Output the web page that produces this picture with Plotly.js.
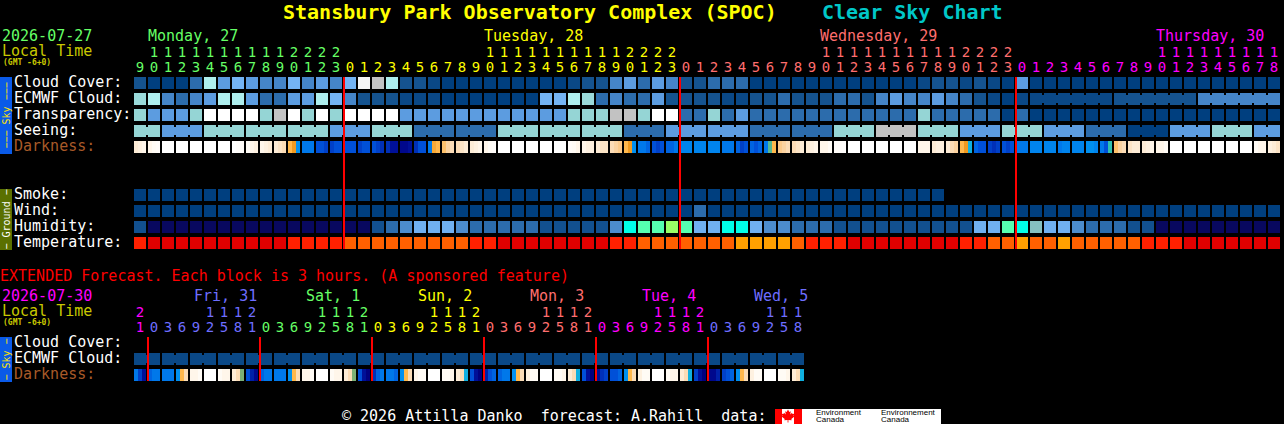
<!DOCTYPE html>
<html><head><meta charset="utf-8">
<script src="https://cdn.plot.ly/plotly-3.0.1.min.js"></script>
<style>html,body{margin:0;padding:0;background:#000;overflow:hidden}#c{width:1284px;height:424px}</style>
</head><body><div id="c"></div>
<script>
/* ---------- forecast values, one per block ---------- */
const hoursMain=[9,10,11,12,13,14,15,16,17,18,19,20,21,22,23,
0,1,2,3,4,5,6,7,8,9,10,11,12,13,14,15,16,17,18,19,20,21,22,23,
0,1,2,3,4,5,6,7,8,9,10,11,12,13,14,15,16,17,18,19,20,21,22,23,
0,1,2,3,4,5,6,7,8,9,10,11,12,13,14,15,16,17,18];
const hoursExt=[21,0,3,6,9,12,15,18,21,0,3,6,9,12,15,18,21,0,3,6,9,12,15,18,21,0,3,6,9,12,15,18,21,0,3,6,9,12,15,18,21,0,3,6,9,12,15,18];
const cloudCover=[10,0,0,0,20,60,40,50,40,30,30,50,30,40,30,50,90,80,60,10,10,
5,0,0,0,0,0,0,0,0,0,5,10,10,30,40,20,40,30,10,10,20,20,20,0,0,0,0,0,0,0,0,
0,0,0,0,5,10,10,5,10,5,0,40,
0,0,0,0,0,0,0,0,0,0,0,0,0,0,0,0,0,0];
const ecmwfCloud=[70,60,30,20,30,40,60,60,40,20,20,40,40,60,50,30,10,10,10,5,5,
5,0,0,0,0,0,0,0,
50,50,60,70,20,30,20,20,40,10,10,10,10,5,5,10,10,20,10,10,10,20,20,
10,30,40,30,30,40,30,20,10,5,0,5,
5,5,5,5,5,5,10,10,10,10,10,10,30,30,30,30,30,30];
const ecmwfJoinedStart=[64,70,76];
const ecmwfJoinedLength=[6,6,6];
const transparency=[3,2,2,2,3,4,4,4,4,3,5,4,3,4,3,4,4,4,4,2,2,
2,2,2,2,2,2,2,2,2,2,3,3,3,5,5,3,4,4,1,1,3,1,2,1,1,1,1,1,1,1,1,
1,1,1,1,3,1,1,1,1,1,0,1,
0,0,0,0,0,0,0,0,0,0,0,0,0,0,0,0,0,0];
const seeingRunLength=[2,3,3,3,3,3,3,3,3,3,3,3,3,3,3,3,3,3,3,3,3,3,3,3,3,3,3,2];
const seeingRunLevel=[3,2,3,3,3,2,3,1,1,3,3,3,1,2,2,1,1,3,5,3,2,3,2,1,0,2,3,2];
const smoke=[0,0,0,0,0,0,0,0,0,0, 0,0,0,0,0,0,0,0,0,0, 0,0,0,0,0,0,0,0,0,0, 0,0,0,0,0,0,0,0,0,0, 0,0,0,0,0,0,0,0,0,0, 0,0,0,0,0,0,0,0];
const wind=[0,0,0,0,0,0,0,0,0,0, 0,0,0,0,0,0,0,0,0,0, 0,0,0,0,0,0,0,0,0,0, 0,0,0,0,0,0,0,0,0,0,
20,0,0,0,0,0,0,0,0,0, 0,0,0,0,0,0,0,0,0,0, 0,0,0,0,0,0,0,0,0,0, 0,0,0,0,0,0,0,0,0,0, 0,0];
const humidity=[30,20,20,20,20,20,20,20,20,20,20,20,20,20,20,20,20,30,40,50,60,60,60,50,
40,40,40,40,40,30,30,30,30,30,50,70,75,75,80,75,60,60,70,70,60,50,50,40,40,40,30,30,
30,30,30,30,30,30,30,30,60,60,75,70,65,60,60,50,40,40,40,30,30,20,20,20,20,20,20,20,20,20];
const temperature=[30,35,35,35,35,35,35,35,35,35,35,30,30,30,30,25,25,25,25,25,25,25,25,25,
30,30,35,35,35,35,35,35,35,35,30,30,25,25,25,25,25,25,25,20,20,20,20,25,30,30,30,
35,35,35,35,35,35,35,35,30,30,25,25,20,25,25,20,25,25,25,25,25,30,30,30,35,35,35,35,35,35,35];
/* sky-brightness index per block, three readings across each block */
const darkness=[2,1.5,1, 1,.5,.3, 0,0,0, 0,0,0, 0,0,0, 0,0,0, 0,0,0, 0,.2,.3, .5,1,1.5, 1,1.5,2, 2,2.5,3, 5,6,8, 9,9,9, 10,10,10.5, 10.5,10,10,
10,10,10, 10.5,10,10, 10,10.5,11, 11,12,12, 12.5,12.5,12, 11,10,10, 9,5.5,5, 4.5,3.5,3, 3,2.5,2, 2,1.5,1, 1,.5,.3,
0,0,0, 0,0,0, 0,0,0, 0,0,0, 0,0,0, .3,.5,1, 1,1.5,1.5, 2,2.5,2.5, 3,3.5,4, 5,6,8, 9,9,9.5, 10,10.5,10, 9.5,9.5,9, 8.5,8.5,8.5, 8.5,8.5,8.5, 8.5,8.5,8.5, 9,9,9, 9.5,10.5,10, 9.5,10,9.5,
9,6.8,5, 4,3.5,3, 3,2.5,2, 2,1.5,1, 1,1,.5, .3,.3,.2, 0,0,0,
0,0,0, 0,0,0, 0,0,0, 0,0,0, 1,1,1, 2,1.5,1.5, 2,3,3.5, 5,6,7.5, 9.5,10,10, 10.5,11,10.5, 10,10.5,10, 9,9,9,
8.5,8.5,8.5, 8.5,8.5,8.5, 9,8.5,8.5, 8.5,8.5,8.5, 8,8,8.5, 9,10,7, 4.5,3.5,3, 2.5,2,2, 2,1.5,1, 1,1,.5, 0,0,0, 0,0,0, 0,0,0, 0,0,0, 0,0,0, 0,0,0, .5,1,1, 1.5,2,2.5];
const ecmwfExt=[5,5,5,5,5,5,5,5,5,5,5,5,5,5,5,5,5,5,5,5,5,5,5,5,5,5,5,5,5,5,5,5,5,5,5,5,5,5,5,5,5,5,5,5,5,5,5,5];
const darknessExt=[9,10.5,12, 9.5,9,9, 9,9,9, 8,5,3, 1,1,.5, 0,0,0, .5,1,1, 2,3,6.6,
10,11.5,12.5, 9.5,9,9, 9,9,9, 8,5,3, 1,1,.5, 0,0,0, .5,1,1, 2,3,6.6,
10,12,13, 11,9.5,9, 9,9,9.5, 8,5,3, 1,.5,.5, 0,0,0, .5,.5,1, 2,3,7.5,
10,12,13, 11.5,10,9.5, 9.5,9,9, 8,5,3, 1.5,.5,.5, 0,0,0, .5,.5,1, 2,3,7.5,
10,12,13, 12,11,10.5, 10,10,9.5, 8,5,3, 1.5,.5,.5, 0,0,0, .5,1,1, 2,3,7.5,
10.5,12,13, 12.5,12.5,11.5, 10.5,10,9.5, 8,5,3, 1.5,.5,.5, 0,0,0, .5,.5,1, 2,3,7.5];
const midnightsMain=[15,39,63];
const midnightsExt=[1,9,17,25,33,41];

/* ---------- texts ---------- */
const rowLabelsSky=["Cloud Cover:","ECMWF Cloud:","Transparency:","Seeing:","Darkness:"];
const rowLabelsGround=["Smoke:","Wind:","Humidity:","Temperature:"];
const rowLabelsExt=["Cloud Cover:","ECMWF Cloud:","Darkness:"];
const dayNamesMain=["Monday, 27","Tuesday, 28","Wednesday, 29","Thursday, 30"];
const dayNamesExt=["Fri, 31","Sat, 1","Sun, 2","Mon, 3","Tue, 4","Wed, 5"];

/* ---------- palettes ---------- */
const GREEN="#66ff66",YEL="#ffff00",PINK="#ff6e6e",MAG="#ff00ff",BLUE="#6e6eff";
const dayColoursMain=[GREEN,YEL,PINK,MAG];
const dayColoursExt=[MAG,BLUE,GREEN,YEL,PINK,MAG,BLUE];
const cloudLevels=[0,5,10,20,30,40,50,60,70,80,90];
const cloudColours=["#003f7f","#0a4886","#15538f","#2c6cac","#4585c8","#5c9ce0","#74b4f4","#aeeeee","#9adada","#c2c2c2","#f6f6f6"];
const skyLevels=[0,1,2,3,4,5];
const skyColours=["#003f7f","#2c6cac","#5c9ce0","#95d5d5","#ffffff","#c2c2c2"];
const humidLevels=[20,30,40,50,60,65,70,75,80];
const humidColours=["#08085f","#12508f","#2c6cac","#4c8ccc","#70b0f0","#85c0c0","#00ffe8","#55ffb0","#99ff66"];
const tempLevels=[20,25,30,35];
const tempColours=["#ffa000","#ff6000","#ff2000","#e00000"];
const darkStops=[[0,"#ffffff"],[1,"#fff6ea"],[2,"#fdecd6"],[3,"#fbdcb6"],[4,"#fbca8a"],[5,"#ffb84c"],[6,"#f09a20"],[7,"#30c0b0"],[7.5,"#10b0e0"],[8,"#0090f0"],[9,"#0078ea"],[10,"#0050d8"],[11,"#0030b8"],[12,"#001098"],[13,"#000080"]];

/* ---------- pixel frame of the figure ---------- */
const W=1284,H=424;
const xRange=[(0-140)/14,(W-140)/14];          /* 14 px per block, first block centred at 140 */
const yRange=[(H-83)/16,(0-83)/16];            /* 16 px per row, first row centred at 83 */
const yRow=px=>(px-83)/16;
const EDGE=6/14;
const FONT="'DejaVu Sans Mono',monospace";

function step(colours){const n=colours.length,s=[];colours.forEach((c,i)=>{s.push([i/n,c]);s.push([(i+1)/n,c]);});return s;}
function blockRow(values,levels,colours,yPx){
  const idx=values.map(v=>levels.indexOf(v));
  return {type:"heatmap",x:values.map((_,i)=>i),y:[yRow(yPx)],z:[idx],
    zmin:0,zmax:colours.length,colorscale:step(colours),showscale:false,xgap:2,ygap:4,hoverinfo:"skip"};
}
function join(start,len,colour,yPx){
  return {type:"scatter",mode:"lines",x:[start,start+len-1],y:[yRow(yPx),yRow(yPx)],
    line:{color:colour,width:8,shape:"linear"},hoverinfo:"skip",showlegend:false};
}
function darkRow(vals,yPx){
  const xs=[],row=[];const n=vals.length/3;
  for(let i=0;i<n;i++){
    const l=i-EDGE,s=(2*EDGE)/3;
    xs.push(l,l+s,l+2*s);row.push(vals[3*i],vals[3*i+1],vals[3*i+2]);
    xs.push(i+EDGE);row.push(null);
  }
  row.pop();
  const cs=darkStops.map(p=>[p[0]/13,p[1]]);
  const yc=yRow(yPx);
  return {type:"heatmap",x:xs,y:[yc-0.375,yc+0.375],z:[row],zmin:0,zmax:13,colorscale:cs,showscale:false,hoverinfo:"skip"};
}
function redLines(idx,y0,y1){
  const xs=[],ys=[];
  idx.forEach(i=>{xs.push(i-EDGE,i-EDGE,null);ys.push(yRow(y0),yRow(y1),null);});
  return {type:"scatter",mode:"lines",x:xs,y:ys,line:{color:"#ff0000",width:2},hoverinfo:"skip",showlegend:false};
}
function digits(hours,colours,yTens,yUnits){
  const day=[];let d=0;
  hours.forEach((h,i)=>{if(i>0&&h<hours[i-1])d++;day.push(colours[d]);});
  const xs=hours.map((_,i)=>i);
  return [
   {type:"scatter",mode:"text",x:xs,y:hours.map(()=>yRow(yTens)),text:hours.map(h=>h>=10?String(Math.floor(h/10)):""),
    textfont:{family:FONT,size:14,color:day},textposition:"middle center",hoverinfo:"skip",showlegend:false},
   {type:"scatter",mode:"text",x:xs,y:hours.map(()=>yRow(yUnits)),text:hours.map(h=>String(h%10)),
    textfont:{family:FONT,size:14,color:day},textposition:"middle center",hoverinfo:"skip",showlegend:false}
  ];
}

/* ---------- traces ---------- */
const seeing=[];const traces=[];
seeingRunLength.forEach((n,k)=>{for(let j=0;j<n;j++)seeing.push(seeingRunLevel[k]);});
traces.push(blockRow(cloudCover,cloudLevels,cloudColours,83));
traces.push(blockRow(ecmwfCloud,cloudLevels,cloudColours,99));
traces.push(blockRow(transparency,skyLevels,skyColours,115));
traces.push(blockRow(seeing,skyLevels,skyColours,131));
traces.push(darkRow(darkness,147));
traces.push(blockRow(smoke,cloudLevels,cloudColours,195));
traces.push(blockRow(wind,cloudLevels,cloudColours,211));
traces.push(blockRow(humidity,humidLevels,humidColours,227));
traces.push(blockRow(temperature,tempLevels,tempColours,243));
traces.push(blockRow(ecmwfExt,cloudLevels,cloudColours,359));
traces.push(darkRow(darknessExt,375));
ecmwfJoinedStart.forEach((s,k)=>traces.push(join(s,ecmwfJoinedLength[k],cloudColours[cloudLevels.indexOf(ecmwfCloud[s])],99)));
let run=0;seeingRunLength.forEach((n,k)=>{traces.push(join(run,n,skyColours[seeingRunLevel[k]],131));run+=n;});
ecmwfExt.forEach((v,i)=>{if(i%2===0)traces.push(join(i,2,cloudColours[cloudLevels.indexOf(v)],359));});
traces.push(redLines(midnightsMain,77,249));
traces.push(redLines(midnightsExt,337,381));
traces.push(...digits(hoursMain,dayColoursMain,53,68));
traces.push(...digits(hoursExt,dayColoursExt,313,328));

/* ---------- annotations and frames ---------- */
const notes=[];
function note(text,x,y,size,color,opt){
  notes.push(Object.assign({text:text,xref:"paper",yref:"paper",x:x/W,y:1-y/H,xanchor:"left",yanchor:"middle",
    showarrow:false,borderpad:0,borderwidth:0,align:"left",font:{family:FONT,size:size,color:color}},opt||{}));
}
const bold=t=>"<b>"+t+"</b>";
note(bold("Stansbury Park Observatory Complex (SPOC)"),283,12,20,"#ffff00");
note(bold("Clear Sky Chart"),822,12,20,"#00c8c8");
note("2026-07-27",2,36,15,GREEN);
note("Local Time",2,51,15,"#c8c800");
note(bold("(GMT -6+0)"),3,62,8,"#c8c800");
dayNamesMain.forEach((t,i)=>note(t,148+336*i,36,15,dayColoursMain[i]));
rowLabelsSky.forEach((t,i)=>note(t,14,82+16*i,15,t==="Darkness:"?"#a85a28":"#ffffff"));
rowLabelsGround.forEach((t,i)=>note(t,14,194+16*i,15,"#ffffff"));
note("EXTENDED Forecast. Each block is 3 hours. (A sponsored feature)",0,276,15,"#ff0000");
note("2026-07-30",2,296,15,MAG);
note("Local Time",2,311,15,"#c8c800");
note(bold("(GMT -6+0)"),3,322,8,"#c8c800");
dayNamesExt.forEach((t,i)=>note(t,194+112*i,296,15,dayColoursExt[i+1]));
rowLabelsExt.forEach((t,i)=>note(t,14,342+16*i,15,t==="Darkness:"?"#a85a28":"#ffffff"));
note("© 2026 Attilla Danko  forecast: A.Rahill  data:",342,416,15,"#ffffff");
const logoFont={font:{family:"'Liberation Sans',sans-serif",size:8,color:"#000"}};
note("Environment",816,412.5,8,"#000000",logoFont);
note("Canada",816,419,8,"#000000",logoFont);
note("Environnement",881,412.5,8,"#000000",logoFont);
note("Canada",881,419,8,"#000000",logoFont);
const side=(t,y,c)=>note(t,6,y,10,c,{textangle:-90,xanchor:"center"});
side("−−− Sky −−−",115.5,"#ffe400");
side("− Ground −",219.5,"#ffffff");
side("− Sky −",359.5,"#ffe400");

const rect=(x0,y0,x1,y1,c)=>({type:"rect",xref:"paper",yref:"paper",x0:x0/W,x1:x1/W,y0:1-y0/H,y1:1-y1/H,fillcolor:c,line:{width:0},layer:"above"});
const leafPts=[[788,409.5],[789.3,412],[790.8,411.2],[790.2,414.5],[792,412.8],[792.5,414],[794.3,413.8],[793.6,416],[794.5,416.5],[791.3,419],[791.7,420.3],[788.4,420],[788.4,422.5],[787.6,422.5],[787.6,420],[784.3,420.3],[784.7,419],[781.5,416.5],[782.4,416],[781.7,413.8],[783.5,414],[784,412.8],[785.8,414.5],[785.2,411.2],[786.7,412]];
const leaf="M"+leafPts.map(p=>(p[0]/W).toFixed(5)+","+(1-p[1]/H).toFixed(5)).join("L")+"Z";
const shapes=[
  rect(0,77,12,154,"#0a5ae8"),rect(0,189,12,250,"#5a7000"),rect(0,337,12,382,"#0a5ae8"),
  rect(775,409,941,424,"#ffffff"),rect(775,409,782,424,"#ff0000"),rect(794,409,802,424,"#ff0000"),
  {type:"path",xref:"paper",yref:"paper",path:leaf,fillcolor:"#ff0000",line:{width:0},layer:"above"}
];

const layout={width:W,height:H,margin:{l:0,r:0,t:0,b:0,pad:0},paper_bgcolor:"#000",plot_bgcolor:"#000",showlegend:false,
  xaxis:{range:xRange,visible:false,fixedrange:true,zeroline:false,showgrid:false},
  yaxis:{range:yRange,visible:false,fixedrange:true,zeroline:false,showgrid:false},
  annotations:notes,shapes:shapes,font:{family:FONT}};
Plotly.newPlot("c",traces,layout,{staticPlot:true,displayModeBar:false});
</script></body></html>
